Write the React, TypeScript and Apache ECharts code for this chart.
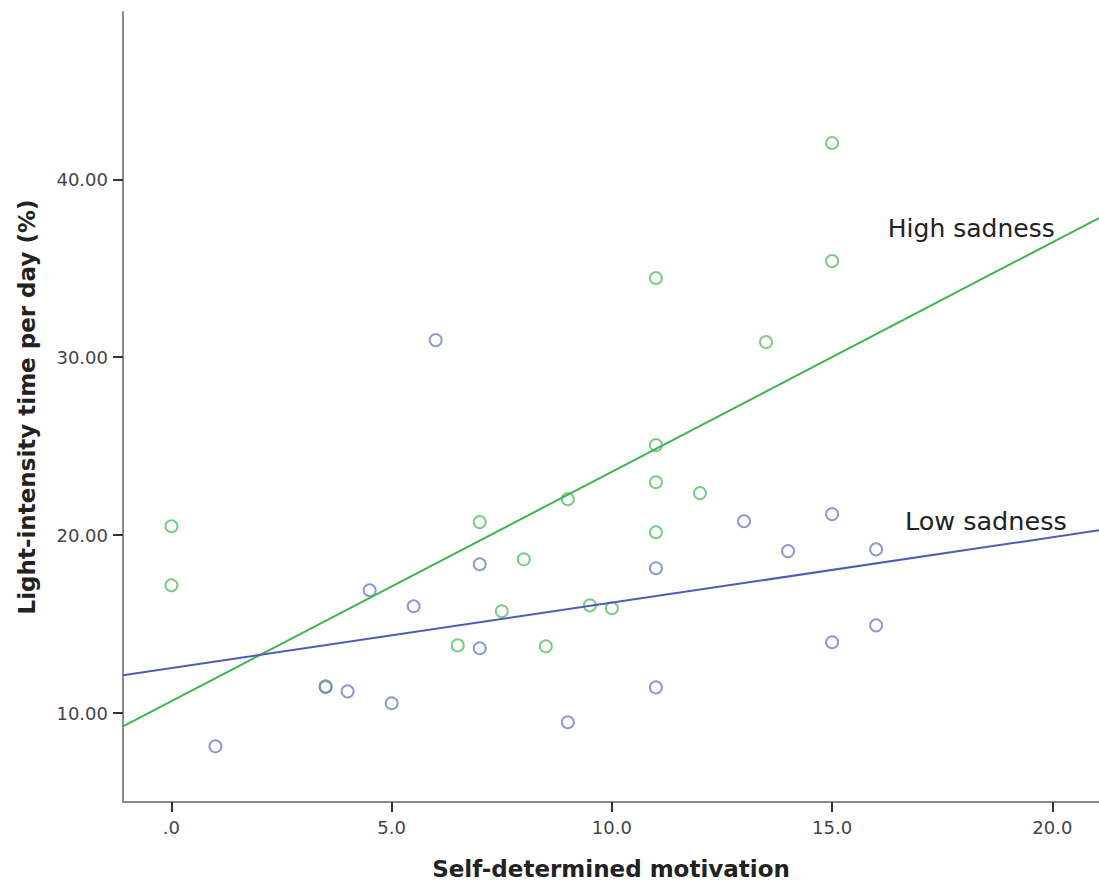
import React, { useEffect, useRef } from "react";
import * as echarts from "echarts";

const xTicks = [0, 5, 10, 15, 20];
const yTicks = [10, 20, 30, 40];

const lowSadness: [number, number][] = [
  [1.0, 8.13], [3.5, 11.5], [4.0, 11.22], [5.0, 10.55], [4.5, 16.9], [5.5, 16.0],
  [6.0, 30.96], [7.0, 18.36], [7.0, 13.64], [9.0, 9.48], [11.0, 11.44], [11.0, 18.14],
  [13.0, 20.78], [14.0, 19.1], [15.0, 21.18], [15.0, 13.98], [16.0, 19.2], [16.0, 14.93],
];

const highSadness: [number, number][] = [
  [0.0, 20.5], [0.0, 17.18], [3.5, 11.45], [6.5, 13.8], [7.0, 20.73], [7.5, 15.72],
  [8.0, 18.64], [8.5, 13.75], [9.0, 22.02], [9.5, 16.05], [10.0, 15.89], [11.0, 34.45],
  [11.0, 25.06], [11.0, 22.97], [11.0, 20.16], [12.0, 22.36], [13.5, 30.85], [15.0, 42.04],
  [15.0, 35.4],
];

const lowFit: [number, number][] = [[-1.1, 12.12], [21.06, 20.27]];
const highFit: [number, number][] = [[-1.1, 9.25], [21.06, 37.82]];

const labels = [
  { name: "High sadness", coord: [18.16, 37.26] },
  { name: "Low sadness", coord: [18.49, 20.78] },
];

const GREEN_LINE = "#3fb54f";
const GREEN_PT = "#5cbf68";
const BLUE_LINE = "#4d5cb9";
const BLUE_PT = "#7480c6";
const FONT = "DejaVu Sans";

export default function App() {
  const ref = useRef<HTMLDivElement>(null);
  useEffect(() => {
    if (!ref.current) return;
    const chart = echarts.init(ref.current, undefined, { renderer: "svg" });
    chart.setOption({
      animation: false,
      backgroundColor: "#ffffff",
      grid: { left: 123, right: 0, top: 12, bottom: 84 },
      xAxis: {
        type: "value",
        min: -1.1,
        max: 21.06,
        name: "Self-determined motivation",
        nameLocation: "middle",
        nameGap: 55,
        nameTextStyle: { fontFamily: FONT, fontWeight: "bold", fontSize: 23, color: "#222" },
        splitLine: { show: false },
        axisLine: { show: true, onZero: false, lineStyle: { color: "#8c8c8c", width: 2 } },
        axisTick: { show: true, length: 10, customValues: xTicks, lineStyle: { color: "#333", width: 2 } },
        axisLabel: {
          customValues: xTicks,
          margin: 16,
          fontFamily: FONT,
          fontSize: 18,
          color: "#444",
          formatter: (v: number) => (v === 0 ? ".0" : v.toFixed(1)),
        },
      },
      yAxis: {
        type: "value",
        min: 5,
        max: 49.4,
        name: "Light-intensity time per day (%)",
        nameLocation: "middle",
        nameGap: 85,
        nameTextStyle: { fontFamily: FONT, fontWeight: "bold", fontSize: 23, color: "#222" },
        splitLine: { show: false },
        axisLine: { show: true, onZero: false, lineStyle: { color: "#8c8c8c", width: 2 } },
        axisTick: { show: true, length: 10, customValues: yTicks, lineStyle: { color: "#333", width: 2 } },
        axisLabel: {
          customValues: yTicks,
          margin: 15,
          fontFamily: FONT,
          fontSize: 18,
          color: "#444",
          formatter: (v: number) => v.toFixed(2),
        },
      },
      series: [
        {
          type: "line",
          data: highFit,
          symbol: "none",
          lineStyle: { color: GREEN_LINE, width: 2 },
          silent: true,
          markPoint: {
            symbol: "circle",
            symbolSize: 0,
            label: { show: true, formatter: "{b}", fontFamily: FONT, fontSize: 25, color: "#222" },
            data: [{ name: labels[0].name, coord: labels[0].coord }],
          },
        },
        {
          type: "line",
          data: lowFit,
          symbol: "none",
          lineStyle: { color: BLUE_LINE, width: 2 },
          silent: true,
          markPoint: {
            symbol: "circle",
            symbolSize: 0,
            label: { show: true, formatter: "{b}", fontFamily: FONT, fontSize: 25.5, color: "#222" },
            data: [{ name: labels[1].name, coord: labels[1].coord }],
          },
        },
        {
          type: "scatter",
          data: highSadness,
          symbol: "circle",
          symbolSize: 12,
          itemStyle: { color: "rgba(0,0,0,0)", borderColor: GREEN_PT, borderWidth: 2 },
        },
        {
          type: "scatter",
          data: lowSadness,
          symbol: "circle",
          symbolSize: 12,
          itemStyle: { color: "rgba(0,0,0,0)", borderColor: BLUE_PT, borderWidth: 2 },
        },
      ],
    });
    return () => chart.dispose();
  }, []);
  return <div ref={ref} style={{ position: "absolute", left: 0, top: 0, width: 1099, height: 886 }} />;
}
